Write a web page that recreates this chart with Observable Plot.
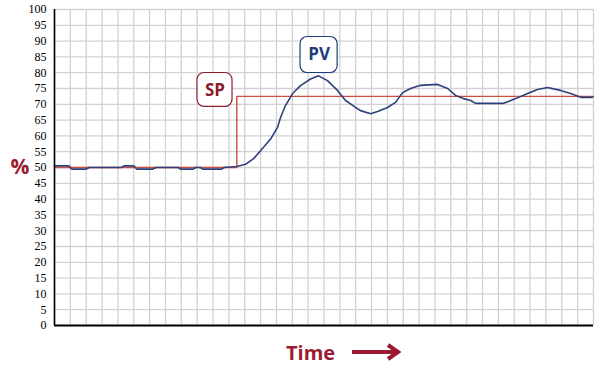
<!DOCTYPE html>
<html><head><meta charset="utf-8">
<script src="https://cdn.jsdelivr.net/npm/d3@7"></script>
<script src="https://cdn.jsdelivr.net/npm/@observablehq/plot@0.6"></script>
<style>
body{margin:0;background:#fff;}
#wrap{position:relative;width:600px;height:370px;}
#xlabel{position:absolute;left:286px;top:337px;height:30px;display:flex;align-items:center;font-family:"Open Sans",sans-serif;font-weight:700;font-size:20px;color:#9b1b30;}
#xlabel svg{margin-left:16px;}
</style></head><body>
<div id="wrap"><div id="chart"></div>
<div id="xlabel"><span>Time</span><svg width="52" height="20" viewBox="0 0 52 20"><line x1="1" y1="10" x2="46" y2="10" stroke="#9b1b30" stroke-width="4"/><polyline points="37,3 47,10 37,17" fill="none" stroke="#9b1b30" stroke-width="4" stroke-linejoin="miter"/></svg></div>
</div>
<script>
// Process variable (PV) — time in grid columns, value in %
const pvTime = [0, 0.9, 1.1, 2.0, 2.2, 4.2, 4.4, 5.0, 5.2, 6.2, 6.4, 7.8, 7.95, 8.75, 8.9, 9.2, 9.35, 10.55, 10.7, 11.48,
  12.05, 12.56, 13.12, 13.63, 14.07, 14.26, 14.57, 15.02, 15.52, 16.15, 16.66, 17.22, 17.85, 18.36, 18.99, 19.31, 19.94,
  20.38, 21.01, 21.51, 21.96, 22.46, 23.09, 24.16, 24.80, 25.30, 25.80, 26.25, 26.56, 28.33, 29.09, 29.84, 30.47, 31.10,
  31.92, 32.56, 33.19, 33.94];
const pvValue = [50.5, 50.5, 49.5, 49.5, 50, 50, 50.5, 50.5, 49.5, 49.5, 50, 50, 49.5, 49.5, 50, 50, 49.5, 49.5, 50, 50.3,
  51, 52.8, 56, 59, 62.7, 65.8, 69.6, 73.4, 75.9, 78, 79, 77.5, 74.4, 71.2, 69, 68, 67,
  67.7, 69, 70.6, 73.7, 75, 76, 76.3, 75, 72.8, 71.8, 71.2, 70.3, 70.3, 71.8, 73.4, 74.7, 75.3,
  74.4, 73.4, 72.2, 72.2];
// Set point (SP)
const spTime = [0, 11.5, 34];
const spValue = [50, 72.5, 72.5];
// Y tick labels
const yTicks = d3.range(0, 101, 5);
const xGrid = d3.range(0, 35, 1);
// Callout labels
const labelText = ["SP", "PV"];
const labelX = [10.12, 16.69];
const labelY = [74.5, 85.6];
const boxX1 = [9.02, 15.52], boxX2 = [11.23, 17.86];
const boxY1 = [69.2, 79.9], boxY2 = [79.9, 91.3];
const labelColor = ["#8c1c2c", "#1d3d78"];

const pv = pvTime.map((t, i) => ({t, v: pvValue[i]}));
const sp = spTime.map((t, i) => ({t, v: spValue[i]}));
const labels = labelText.map((s, i) => ({s, x: labelX[i], y: labelY[i], x1: boxX1[i], x2: boxX2[i], y1: boxY1[i], y2: boxY2[i], c: labelColor[i]}));

const chart = Plot.plot({
  width: 600, height: 335,
  marginLeft: 54, marginRight: 7, marginTop: 9, marginBottom: 10,
  style: {fontFamily: "'Liberation Serif', serif", fontSize: "12px", color: "#000", background: "#fff"},
  x: {domain: [0, 34], axis: null},
  y: {domain: [0, 100], ticks: yTicks, tickSize: 0, tickPadding: 8, label: null},
  marks: [
    Plot.ruleX(xGrid, {stroke: "#d2d2d2", strokeWidth: 1.3}),
    Plot.ruleY(yTicks, {stroke: "#d2d2d2", strokeWidth: 1.3}),
    Plot.line(sp, {x: "t", y: "v", curve: "step-after", stroke: "#c9503e", strokeWidth: 1.4}),
    Plot.line(pv, {x: "t", y: "v", stroke: "#2d3f7c", strokeWidth: 1.6}),
    Plot.ruleX([0], {stroke: "#000", strokeWidth: 1.6}),
    Plot.ruleY([0], {stroke: "#000", strokeWidth: 2}),
    Plot.rect(labels, {x1: "x1", x2: "x2", y1: "y1", y2: "y2", fill: "#fff", stroke: "c", strokeWidth: 1.2, rx: 7}),
    Plot.text(labels, {x: "x", y: "y", text: "s", fill: "c", fontSize: 17, fontWeight: 700, fontFamily: "'Open Sans', sans-serif"}),
    Plot.text(["%"], {frameAnchor: "left", y: () => 50, dx: -44, text: d => d, fill: "#9b1b30", fontSize: 21, fontWeight: 700, fontFamily: "'Open Sans', sans-serif"})
  ]
});
document.getElementById("chart").appendChild(chart);
</script>
</body></html>
